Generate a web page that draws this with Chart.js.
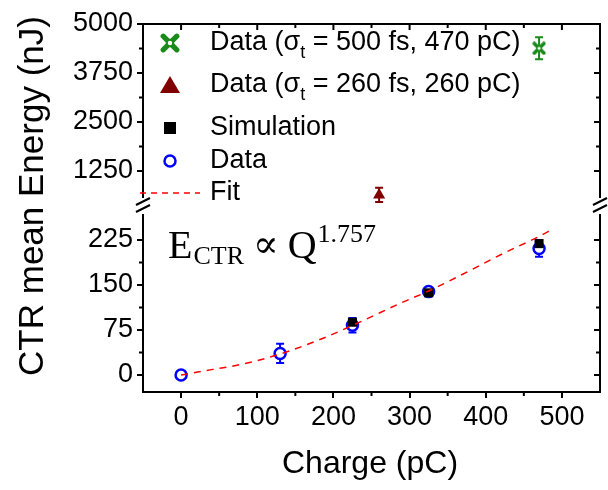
<!DOCTYPE html>
<html>
<head>
<meta charset="utf-8">
<script src="https://cdn.jsdelivr.net/npm/chart.js@4.4.1/dist/chart.umd.min.js"></script>
<style>
html, body { margin: 0; padding: 0; background: #fff; }
</style>
</head>
<body>
<canvas id="ctrChart" width="608" height="490"></canvas>
<script>
// values
var dataCharge = [0, 130, 225, 325, 470];
var dataEnergy = [0, 36, 83, 139, 211];
var dataErr = [3, 16, 12, 5, 14];

var simCharge = [225, 325, 470];
var simEnergy = [88, 137, 219];

var fitCharge = [0, 40, 80, 130, 184, 236, 292, 325, 379, 422, 470, 486];
var fitEnergy = [0, 9, 18, 35, 60, 89, 122, 140, 174, 202, 231, 242];

var d260Charge = [260];
var d260Energy = [640];
var d260Err = [180];

var d500Charge = [470];
var d500Energy = [4380];
var d500Err = [280];

var xTicks = [0, 100, 200, 300, 400, 500];
var xMinor = [50, 150, 250, 350, 450];
var topTicks = [1250, 2500, 3750, 5000];
var topMinor = [1875, 3125, 4375];
var botTicks = [0, 75, 150, 225];
var botMinor = [37.5, 112.5, 187.5];

var GREEN = '#1a8a1a', MAROON = '#800000', BLUE = '#0000ff', RED = '#ff0000';
var FONT = "'Liberation Sans', Arial, sans-serif";

function pts(xs, ys) {
    var out = [];
    for (var i = 0; i < xs.length; i++) out.push({x: xs[i], y: ys[i]});
    return out;
}

// green crossed marker
function greenMark(size) {
    var c = document.createElement('canvas');
    c.width = size; c.height = size;
    var g = c.getContext('2d');
    var h = size / 2, r = size * 0.34;
    g.strokeStyle = GREEN;
    g.lineWidth = size * 0.26;
    g.lineCap = 'round';
    g.beginPath();
    g.moveTo(h - r, h - r); g.lineTo(h + r, h + r);
    g.moveTo(h + r, h - r); g.lineTo(h - r, h + r);
    g.stroke();
    g.lineWidth = size * 0.1;
    g.fillStyle = '#fff';
    g.beginPath(); g.arc(h, h, size * 0.16, 0, Math.PI * 2); g.fill(); g.stroke();
    return c;
}

var errBars = {
    id: 'errBars',
    beforeDatasetsDraw: function(chart) {
        var ctx = chart.ctx;
        chart.data.datasets.forEach(function(ds, i) {
            if (!ds.errors) return;
            var meta = chart.getDatasetMeta(i);
            var ys = chart.scales[ds.yAxisID];
            ctx.save();
            ctx.strokeStyle = ds.errColor;
            ctx.lineWidth = 2;
            meta.data.forEach(function(p, j) {
                var v = ds.data[j].y, e = ds.errors[j];
                var y1 = ys.getPixelForValue(v + e), y2 = ys.getPixelForValue(v - e);
                ctx.beginPath();
                ctx.moveTo(p.x, y1); ctx.lineTo(p.x, y2);
                ctx.moveTo(p.x - 4, y1); ctx.lineTo(p.x + 4, y1);
                ctx.moveTo(p.x - 4, y2); ctx.lineTo(p.x + 4, y2);
                ctx.stroke();
            });
            ctx.restore();
        });
    }
};

var frame = {
    id: 'frame',
    afterDraw: function(chart) {
        var ctx = chart.ctx, a = chart.chartArea;
        var sx = chart.scales.x, st = chart.scales.yTop, sb = chart.scales.yBot;
        ctx.save();
        ctx.strokeStyle = '#000';
        ctx.lineWidth = 2;
        ctx.beginPath();
        ctx.moveTo(a.left - 1, a.top); ctx.lineTo(a.right, a.top); ctx.lineTo(a.right, a.bottom + 1);
        ctx.stroke();

        ctx.beginPath();
        // top: inward ticks
        xTicks.forEach(function(v) { var x = sx.getPixelForValue(v); ctx.moveTo(x, a.top); ctx.lineTo(x, a.top + 6); });
        xMinor.forEach(function(v) { var x = sx.getPixelForValue(v); ctx.moveTo(x, a.top); ctx.lineTo(x, a.top + 4); });
        // bottom: outward minor
        xMinor.forEach(function(v) { var x = sx.getPixelForValue(v); ctx.moveTo(x, a.bottom); ctx.lineTo(x, a.bottom + 4); });
        // left: outward minor, right: inward all
        [[st, topTicks, 6], [st, topMinor, 4], [sb, botTicks, 6], [sb, botMinor, 4]].forEach(function(s) {
            s[1].forEach(function(v) {
                var y = s[0].getPixelForValue(v);
                ctx.moveTo(a.right, y); ctx.lineTo(a.right - s[2], y);
                if (s[2] === 4) { ctx.moveTo(a.left, y); ctx.lineTo(a.left - 4, y); }
            });
        });
        ctx.stroke();

        // axis break
        var yb = st.bottom;
        [a.left, a.right].forEach(function(x) {
            ctx.fillStyle = '#fff';
            ctx.fillRect(x - 2, yb - 8, 4, 16);
            ctx.beginPath();
            ctx.moveTo(x - 7, yb - 1); ctx.lineTo(x + 7, yb - 8);
            ctx.moveTo(x - 7, yb + 6); ctx.lineTo(x + 7, yb - 1);
            ctx.stroke();
        });

        // axis titles
        ctx.fillStyle = '#000';
        ctx.textAlign = 'center';
        ctx.textBaseline = 'middle';
        ctx.font = '32px ' + FONT;
        ctx.fillText('Charge (pC)', 370, 464);
        ctx.font = '35px ' + FONT;
        ctx.translate(33, 196);
        ctx.rotate(-Math.PI / 2);
        ctx.fillText('CTR mean Energy (nJ)', 0, 0);
        ctx.restore();

        // legend
        ctx.save();
        ctx.textBaseline = 'middle';
        ctx.textAlign = 'left';
        ctx.fillStyle = '#000';
        var lx = 170, tx = 210;
        ctx.drawImage(greenMark(20), lx - 10, 43 - 10);
        ctx.fillStyle = MAROON;
        ctx.beginPath(); ctx.moveTo(lx, 76); ctx.lineTo(lx + 10, 93); ctx.lineTo(lx - 10, 93); ctx.closePath(); ctx.fill();
        ctx.fillStyle = '#000';
        ctx.fillRect(lx - 6, 122, 12, 12);
        ctx.strokeStyle = BLUE; ctx.lineWidth = 2.5;
        ctx.beginPath(); ctx.arc(lx, 161, 5.5, 0, Math.PI * 2); ctx.stroke();
        ctx.strokeStyle = RED; ctx.lineWidth = 1.5; ctx.setLineDash([6, 5]);
        ctx.beginPath(); ctx.moveTo(140, 193); ctx.lineTo(200, 193); ctx.stroke();
        ctx.setLineDash([]);

        function sigmaRow(y, rest) {
            ctx.font = '27px ' + FONT;
            var x = tx;
            ctx.fillText('Data (\u03c3', x, y); x += ctx.measureText('Data (\u03c3').width;
            ctx.font = '18px ' + FONT;
            ctx.fillText('t', x, y + 10); x += ctx.measureText('t').width;
            ctx.font = '27px ' + FONT;
            ctx.fillText(rest, x, y);
        }
        sigmaRow(43, ' = 500 fs, 470 pC)');
        sigmaRow(85, ' = 260 fs, 260 pC)');
        ctx.font = '27px ' + FONT;
        ctx.fillText('Simulation', tx, 128);
        ctx.fillText('Data', tx, 161);
        ctx.fillText('Fit', tx, 193);

        // formula
        var fx = 168, fy = 258;
        var serif = "'Liberation Serif', 'DejaVu Serif', serif";
        ctx.textBaseline = 'alphabetic';
        ctx.font = '40px ' + serif;
        ctx.fillText('E', fx, fy); fx += ctx.measureText('E').width + 1;
        ctx.font = '26px ' + serif;
        ctx.fillText('CTR', fx, fy + 6); fx += ctx.measureText('CTR').width + 9;
        ctx.font = '38px ' + serif;
        ctx.fillText('\u221d', fx, fy - 1); fx += ctx.measureText('\u221d').width + 9;
        ctx.font = '40px ' + serif;
        ctx.fillText('Q', fx, fy); fx += ctx.measureText('Q').width + 1;
        ctx.font = '26px ' + serif;
        ctx.fillText('1.757', fx, fy - 16);
        ctx.restore();
    }
};

function fixTicks(list) {
    return function(scale) { scale.ticks = list.map(function(v) { return {value: v}; }); };
}
function plain(v) { return String(v); }

var axisGrid = {drawOnChartArea: false, drawTicks: true, tickLength: 6, color: '#000', lineWidth: 2};
var axisBorder = {color: '#000', width: 2};
var tickFont = {family: FONT, size: 27};

new Chart(document.getElementById('ctrChart'), {
    type: 'scatter',
    data: {
        datasets: [
            {
                label: 'Fit', type: 'line', data: pts(fitCharge, fitEnergy), yAxisID: 'yBot',
                borderColor: RED, borderWidth: 1.5, borderDash: [7, 6], pointRadius: 0,
                cubicInterpolationMode: 'monotone', fill: false
            },
            {
                label: 'Simulation', data: pts(simCharge, simEnergy), yAxisID: 'yBot',
                pointStyle: 'rect', radius: 6.4, backgroundColor: '#000', borderColor: '#000', borderWidth: 0
            },
            {
                label: 'Data', data: pts(dataCharge, dataEnergy), yAxisID: 'yBot',
                errors: dataErr, errColor: BLUE,
                pointStyle: 'circle', radius: 5.5, backgroundColor: '#fff', borderColor: BLUE, borderWidth: 2.5
            },
            {
                label: 'Data 260 fs', data: pts(d260Charge, d260Energy), yAxisID: 'yTop',
                errors: d260Err, errColor: MAROON,
                pointStyle: 'triangle', radius: 7, backgroundColor: MAROON, borderColor: MAROON, borderWidth: 0
            },
            {
                label: 'Data 500 fs', data: pts(d500Charge, d500Energy), yAxisID: 'yTop',
                errors: d500Err, errColor: GREEN,
                pointStyle: greenMark(14), radius: 7
            }
        ]
    },
    options: {
        responsive: false,
        animation: false,
        clip: false,
        layout: {padding: {top: 24, right: 3, left: 0, bottom: 0}},
        plugins: {legend: {display: false}, tooltip: {enabled: false}},
        scales: {
            x: {
                type: 'linear', min: -50, max: 550,
                afterBuildTicks: fixTicks(xTicks),
                afterFit: function(s) { s.height = 98; },
                grid: axisGrid, border: axisBorder,
                ticks: {font: tickFont, color: '#000', padding: 3, maxRotation: 0, callback: plain}
            },
            yBot: {
                type: 'linear', position: 'left', stack: 'v', stackWeight: 186,
                min: -28.3, max: 281.7,
                afterBuildTicks: fixTicks(botTicks),
                afterFit: function(s) { s.width = 143; },
                grid: axisGrid, border: axisBorder,
                ticks: {font: tickFont, color: '#000', padding: 4, callback: plain}
            },
            yTop: {
                type: 'linear', position: 'left', stack: 'v', stackWeight: 182,
                min: 357, max: 5000,
                afterBuildTicks: fixTicks(topTicks),
                afterFit: function(s) { s.width = 143; },
                grid: axisGrid, border: axisBorder,
                ticks: {font: tickFont, color: '#000', padding: 4, callback: plain}
            }
        }
    },
    plugins: [errBars, frame]
});
</script>
</body>
</html>
